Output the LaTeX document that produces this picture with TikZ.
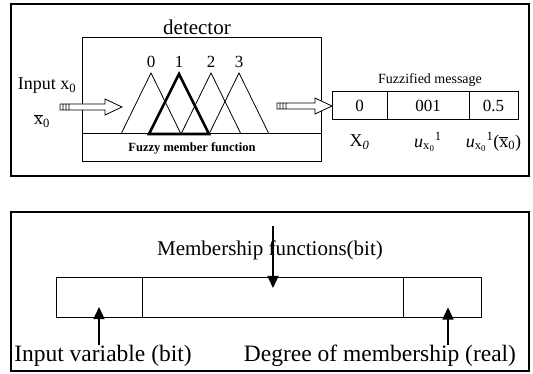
\documentclass[tikz,border=0pt]{standalone}
\usepackage{fontspec}
\setmainfont{Liberation Serif}
\usetikzlibrary{positioning,calc,arrows.meta}
\newcommand\xquer{$\overline{\hbox{x}}$\textsubscript{0}}
\tikzset{
	lbl/.style={inner sep=0pt},
	cell/.style={draw, line width=1pt, outer sep=0pt, inner sep=0pt, minimum height=28pt, font=\fontsize{17}{17}\selectfont},
	field/.style={draw, line width=1pt, outer sep=0pt, inner sep=0pt, minimum height=39pt},
	pointer/.style={line width=1.4pt, -{Triangle[width=11pt,length=12pt]}},
	hollow/.style={line width=0.8pt, fill=white, to path={
		let \p1=(\tikztostart), \p2=(\tikztotarget) in
		(\x1,\y1-3pt) -- (\x2-17pt,\y1-3pt) -- (\x2-17pt,\y1-8pt) -- (\x2,\y1)
		-- (\x2-17pt,\y1+8pt) -- (\x2-17pt,\y1+3pt) -- (\x1,\y1+3pt) -- cycle
		(\x1+3pt,\y1-3pt) -- (\x1+3pt,\y1+3pt)
		(\x1+6pt,\y1-3pt) -- (\x1+6pt,\y1+3pt)
		(\x1+9pt,\y1-3pt) -- (\x1+9pt,\y1+3pt)}}
}
\begin{document}
\begin{tikzpicture}[x=1pt,y=-1pt]
	\useasboundingbox (0,0) rectangle (533,374);
	% Obere Tafel: Detektor
	\draw[line width=1.2pt] (11,4) rectangle (529,176);
	\node[lbl, font=\fontsize{21}{21}\selectfont] (det) at (197,27) {detector};
	\draw[line width=1pt] (82,38) rectangle (321,162);
	\draw[line width=1pt] (82,134) -- (321,134);
	\node[lbl, font=\bfseries\fontsize{12.5}{12.5}\selectfont] (fmf) at (192,148) {Fuzzy member function};
	% Dreiecke
	\foreach \i/\ax in {0/151, 1/179, 2/211, 3/239} {
		\draw[line width=0.8pt] (\ax-30,134) -- (\ax,73) -- (\ax+30,134);
		\node[lbl, font=\fontsize{17}{17}\selectfont] (n\i) at (\ax,62) {\i};
	}
	\draw[line width=2.6pt] (149,134) -- (179,74) -- (209,134) -- cycle;
	% Eingang
	\node[lbl, font=\fontsize{18}{18}\selectfont] (inp) at (47,86) {Input x\textsubscript{0}};
	\node[lbl, font=\fontsize{18}{18}\selectfont] (inbar) at (42,121) {\xquer};
	\coordinate (inTail) at (60,107);
	\coordinate (inHead) at (122,107);
	\draw[hollow] (inTail) to (inHead);
	% Nachricht
	\node[cell, minimum width=55pt] (c0) at (359.5,106) {0};
	\node[cell, minimum width=82pt, right=0pt of c0] (c1) {001};
	\node[cell, minimum width=49pt, right=0pt of c1] (c2) {0.5};
	\node[lbl, font=\fontsize{14}{14}\selectfont] (fm) at (430,80) {Fuzzified message};
	\coordinate (outTail) at (277,106);
	\draw[hollow] (outTail) to (c0.west);
	\node[lbl, font=\fontsize{18}{18}\selectfont] (l0) at (c0.south |- 0,142) {X\textsubscript{\textit{0}}};
	\node[lbl, font=\fontsize{18}{18}\selectfont] (l1) at (c1.south |- 0,142) {\textit{u}\textsubscript{x\textsubscript{0}}\textsuperscript{1}};
	\node[lbl, font=\fontsize{18}{18}\selectfont] (l2) at (c2.south |- 0,142) {\textit{u}\textsubscript{x\textsubscript{0}}\textsuperscript{1}(\xquer)};
	% Untere Tafel: Nachrichtenformat
	\draw[line width=1.2pt] (11,212) rectangle (529,371);
	\node[field, minimum width=86pt] (fin) at (99,297.5) {};
	\node[field, minimum width=261pt, right=0pt of fin] (fmem) {};
	\node[field, minimum width=78pt, right=0pt of fmem] (fdeg) {};
	\node[lbl, font=\fontsize{21}{21}\selectfont] (mtxt) at (270,250) {Membership functions(bit)};
	\node[lbl, font=\fontsize{23.5}{24}\selectfont] (vtxt) at (103,356) {Input variable (bit)};
	\node[lbl, font=\fontsize{23.5}{24}\selectfont] (dtxt) at (380,356) {Degree of membership (real)};
	\coordinate (mtop) at (273,226);
	\draw[pointer] (mtop) -- (mtop |- 0,288);
	\draw[pointer] (vtxt.north -| fin) -- (fin.center |- 0,307);
	\draw[pointer] ($(dtxt.north -| fdeg)+(6,0)$) -- ($(fdeg.center)+(6,10)$);
\end{tikzpicture}
\end{document}
